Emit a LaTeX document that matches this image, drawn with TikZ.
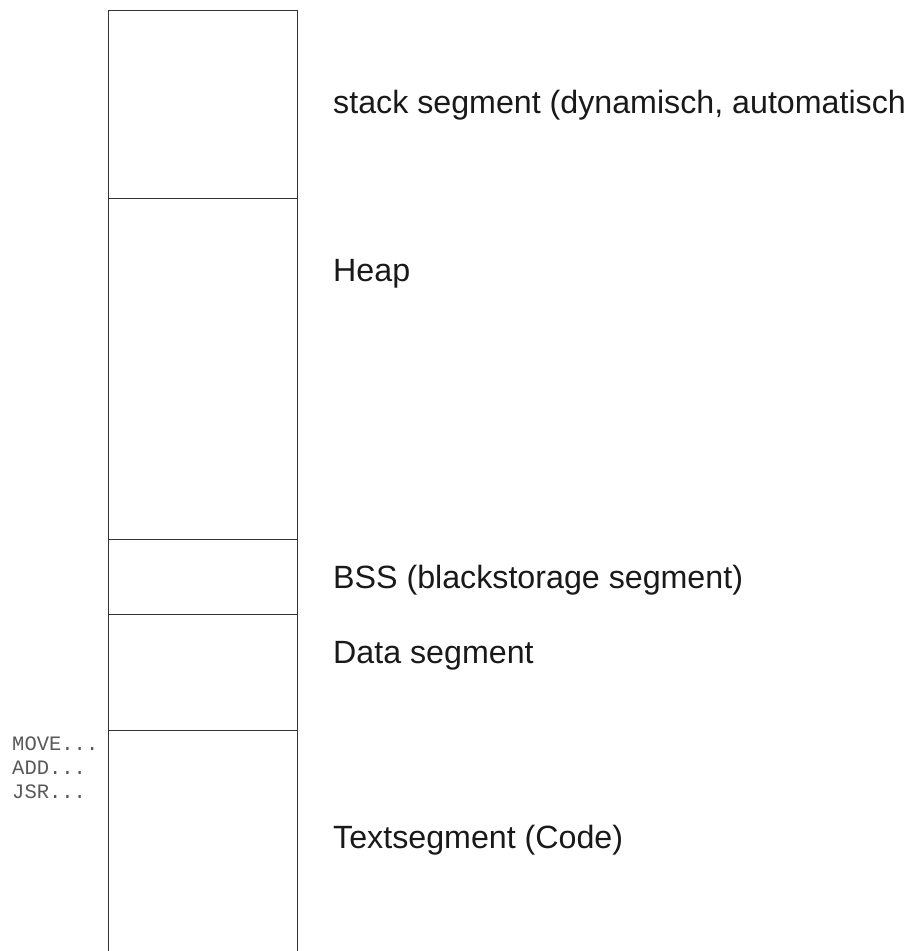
\documentclass[tikz,border=0pt]{standalone}
\usepackage{fontspec}
\setmainfont{Liberation Sans}
\setmonofont{Liberation Mono}

\begin{document}
\begin{tikzpicture}[x=1pt,y=-1pt,
		seglabel/.style={anchor=base west,inner sep=0pt,text=black!90,font=\fontsize{32.2}{38}\selectfont},
		codeline/.style={anchor=base west,inner sep=0pt,text=black!65,font=\ttfamily\fontsize{20.5}{24}\selectfont}]
				\useasboundingbox (0,0) rectangle (910,951);
				\draw[black!80,line width=1pt] (108,951) -- (108,10) -- (297,10) -- (297,951);
				\foreach \y in {198,539,614,730}
				{
					\draw[black!80,line width=1pt] (108,\y) -- (297,\y);
				}
				\node[seglabel] (stack) at (333,113) {stack segment (dynamisch, automatisch};
				\node[seglabel] (heap) at (333,281) {Heap};
				\node[seglabel] (bss) at (333,588) {BSS (blackstorage segment)};
				\node[seglabel] (data) at (333,663) {Data segment};
				\node[seglabel] (text) at (333,848) {Textsegment (Code)};
				\foreach \x [count = \xi] in {{MOVE{.}{.}{.}},{ADD{.}{.}{.}},{JSR{.}{.}{.}}}
				{
					\node[codeline] (code\xi) at (12,726+24*\xi) {\x};
				}
			\end{tikzpicture}
\end{document}
